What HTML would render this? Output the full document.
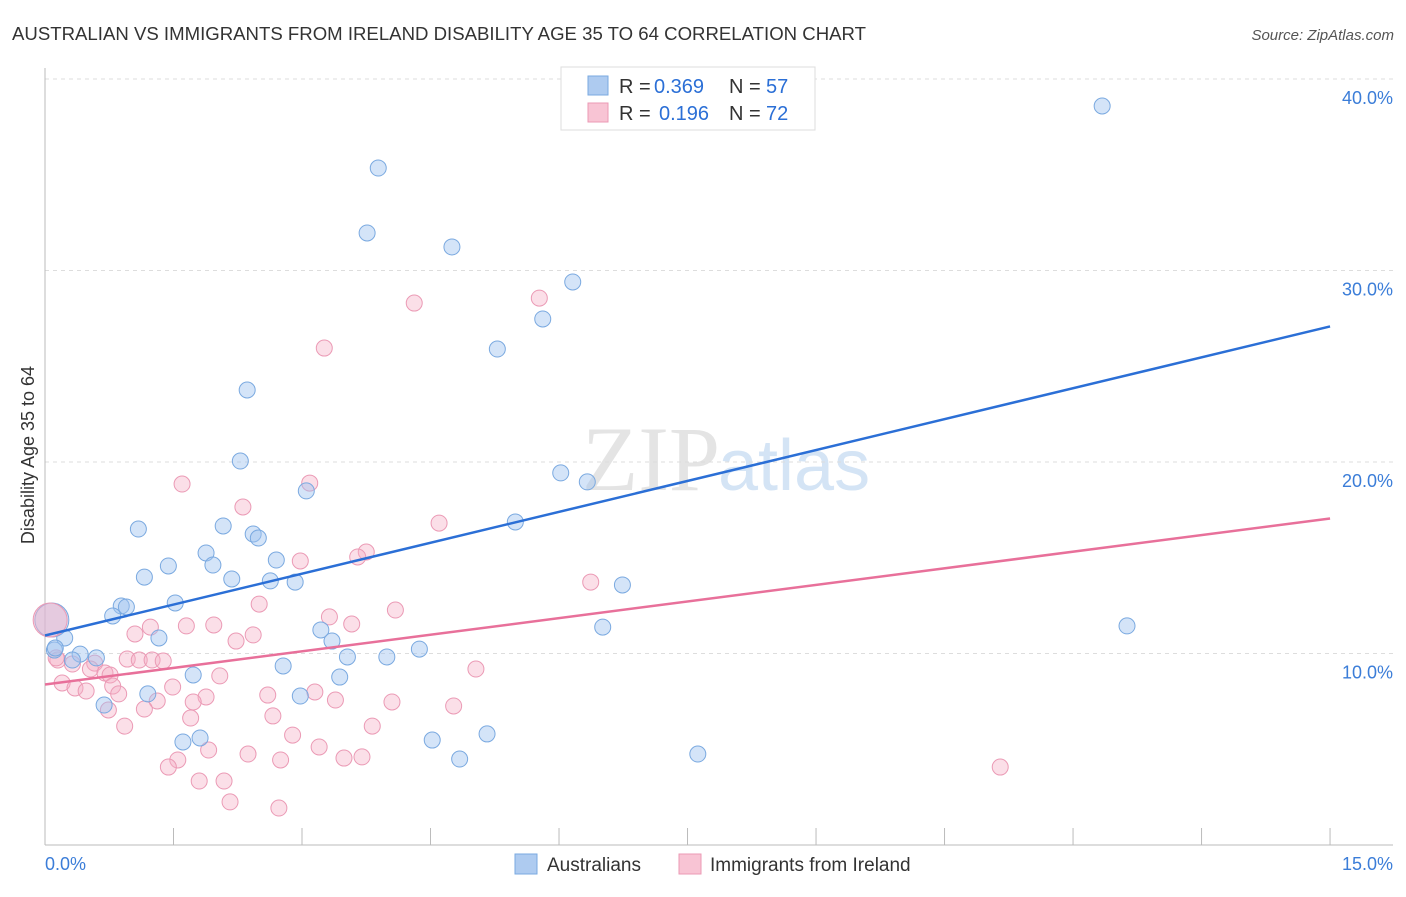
<!DOCTYPE html>
<html><head><meta charset="utf-8"><style>
body{margin:0;background:#fff;font-family:"Liberation Sans",sans-serif;}
svg text{font-family:"Liberation Sans",sans-serif;}
</style></head><body>
<svg id="chart" width="1406" height="892" viewBox="0 0 1406 892">
<text x="12" y="40" font-size="18" fill="#333" textLength="854" lengthAdjust="spacingAndGlyphs">AUSTRALIAN VS IMMIGRANTS FROM IRELAND DISABILITY AGE 35 TO 64 CORRELATION CHART</text>
<text x="1394" y="40" font-size="15" fill="#555" font-style="italic" text-anchor="end">Source: ZipAtlas.com</text>
<g><text x="720" y="490" font-size="92" fill="#e4e4e4" text-anchor="end" style="font-family:'Liberation Serif',serif">ZIP</text><text x="718" y="490" font-size="72" fill="#d4e4f5">atlas</text></g>
<g id="grid"></g>
<g id="axes"></g>
<g id="marks"></g>
<text transform="translate(34,455) rotate(-90)" font-size="18" fill="#333" text-anchor="middle">Disability Age 35 to 64</text>
<g>
<rect x="561" y="67" width="254" height="63" fill="#fff" stroke="#ddd"/>
<rect x="588" y="76" width="20" height="19" fill="#aecbf0" stroke="#7aa9e0"/>
<rect x="588" y="103" width="20" height="19" fill="#f8c4d4" stroke="#eb9ab5"/>
<text x="619" y="93" font-size="20" fill="#333">R =</text>
<text x="654" y="93" font-size="20" fill="#2b6fd6">0.369</text>
<text x="729" y="93" font-size="20" fill="#333">N =</text>
<text x="766" y="93" font-size="20" fill="#2b6fd6">57</text>
<text x="619" y="120" font-size="20" fill="#333">R =</text>
<text x="659" y="120" font-size="20" fill="#2b6fd6">0.196</text>
<text x="729" y="120" font-size="20" fill="#333">N =</text>
<text x="766" y="120" font-size="20" fill="#2b6fd6">72</text>
</g>
<g>
<rect x="515" y="854" width="22" height="20" fill="#aecbf0" stroke="#7aa9e0"/>
<text x="547" y="871" font-size="19" fill="#333">Australians</text>
<rect x="679" y="854" width="22" height="20" fill="#f8c4d4" stroke="#eb9ab5"/>
<text x="710" y="871" font-size="19" fill="#333">Immigrants from Ireland</text>
</g>
</svg>
<script>
const xTickLabels=["0.0%","15.0%"];
const yTicks=[10,20,30,40];
const yTickLabels=["10.0%","20.0%","30.0%","40.0%"];
const blueX=[12.34,3.89,3.76,4.75,6.16,5.81,5.28,2.36,2.28,6.02,6.33,3.05,5.49,1.09,2.08,2.43,2.49,1.88,1.96,2.70,1.44,1.16,2.18,2.63,2.92,6.74,1.52,0.89,0.95,0.79,6.51,12.63,3.22,1.33,0.23,3.35,0.11,0.41,0.60,0.32,3.53,3.99,4.37,2.78,3.44,1.73,2.98,1.20,0.69,4.52,5.16,1.61,1.81,4.84,7.62,0.12];
const blueY=[38.59,35.35,31.96,31.23,29.40,27.47,25.90,23.76,20.05,19.43,18.96,18.49,16.87,16.50,16.66,16.24,16.03,15.25,14.62,14.88,14.57,13.99,13.89,13.79,13.73,13.58,12.64,12.48,12.43,11.96,11.38,11.44,11.23,10.81,10.81,10.65,10.18,9.97,9.77,9.66,9.82,9.82,10.23,9.35,8.77,8.88,7.78,7.89,7.31,5.48,5.80,5.38,5.59,4.49,4.75,10.29];
const pinkX=[5.77,4.31,3.26,1.60,3.09,2.31,4.60,3.75,3.65,2.98,6.37,2.50,4.09,3.32,1.23,3.58,1.65,1.97,1.05,2.43,2.23,0.96,1.10,1.25,1.38,5.03,0.15,0.32,0.58,0.53,0.70,0.76,2.04,0.20,0.35,0.48,0.79,0.86,1.49,3.15,1.88,2.60,1.73,1.31,0.74,1.16,3.39,4.05,4.77,2.66,1.70,0.93,3.82,2.89,3.20,1.91,2.37,3.49,3.70,2.75,1.55,1.44,1.80,2.09,11.15,2.16,2.73,0.13];
const pinkY=[28.56,28.30,25.95,18.85,18.90,17.65,16.81,15.30,15.04,14.83,13.73,12.58,12.27,11.91,11.38,11.54,11.44,11.49,11.02,10.97,10.65,9.71,9.66,9.66,9.61,9.19,9.66,9.45,9.50,9.19,8.98,8.88,8.83,8.46,8.20,8.04,8.30,7.89,8.25,7.99,7.73,7.83,7.47,7.52,7.05,7.10,7.57,7.47,7.26,6.74,6.63,6.21,6.21,5.74,5.12,4.96,4.75,4.54,4.60,4.44,4.44,4.07,3.34,3.34,4.07,2.25,1.93,9.77];
const bigBlue=[0.08,11.75];
const bigPink=[0.06,11.75];
const blueTrend=[[0,10.94],[15,27.08]];
const pinkTrend=[[0,8.38],[15,17.05]];
const NS="http://www.w3.org/2000/svg";
function X(v){return 45+v*85.67;}
function Y(v){return 845-v*19.15;}
function mk(tag,attrs,parent){const e=document.createElementNS(NS,tag);for(const k in attrs)e.setAttribute(k,attrs[k]);parent.appendChild(e);return e;}
const grid=document.getElementById('grid'),axes=document.getElementById('axes'),marks=document.getElementById('marks');
yTicks.forEach((t,i)=>{
 const l=mk('line',{x1:45,x2:1393,y1:Y(t),y2:Y(t),stroke:'#ddd','stroke-dasharray':'4,4'},grid);
 
 
 const tx=mk('text',{x:1393,y:Y(t)+25,'font-size':18,fill:'#3b7dd8','text-anchor':'end'},axes);
 tx.textContent=yTickLabels[i];
 
 
});
const ax=mk('line',{x1:45,x2:45,y1:68,y2:845,stroke:'#bbb'},axes);


const bx=mk('line',{x1:45,x2:1393,y1:845,y2:845,stroke:'#bbb'},axes);


for(let i=0;i<=10;i++){
 const t=mk('line',{x1:X(i*1.5),x2:X(i*1.5),y1:828,y2:845,stroke:'#bbb'},axes);
 
 
}
const xl0=mk('text',{x:45,y:870,'font-size':18,fill:'#3b7dd8'},axes);xl0.textContent=xTickLabels[0];


const xl1=mk('text',{x:1393,y:870,'font-size':18,fill:'#3b7dd8','text-anchor':'end'},axes);xl1.textContent=xTickLabels[1];


function dots(xs,ys,fill,stroke,name){xs.forEach((x,i)=>{
 const c=mk('circle',{cx:X(x),cy:Y(ys[i]),r:8,fill:fill,stroke:stroke,'stroke-width':1},marks);
 
 
});}
dots(pinkX,pinkY,'rgba(245,175,198,0.4)','#eb9ab5','ireland-point');
dots(blueX,blueY,'rgba(160,196,240,0.45)','#7aa9e0','australian-point');
const bb=mk('circle',{cx:X(bigBlue[0]),cy:Y(bigBlue[1]),r:17,fill:'rgba(160,196,240,0.45)',stroke:'#7aa9e0'},marks);


const bp=mk('circle',{cx:X(bigPink[0]),cy:Y(bigPink[1]),r:17,fill:'rgba(245,175,198,0.5)',stroke:'#eb9ab5'},marks);


const tb=mk('line',{x1:X(blueTrend[0][0]),y1:Y(blueTrend[0][1]),x2:X(blueTrend[1][0]),y2:Y(blueTrend[1][1]),stroke:'#2b6fd6','stroke-width':2.5},marks);


const tp=mk('line',{x1:X(pinkTrend[0][0]),y1:Y(pinkTrend[0][1]),x2:X(pinkTrend[1][0]),y2:Y(pinkTrend[1][1]),stroke:'#e8709a','stroke-width':2.5},marks);


</script>
</body></html>
